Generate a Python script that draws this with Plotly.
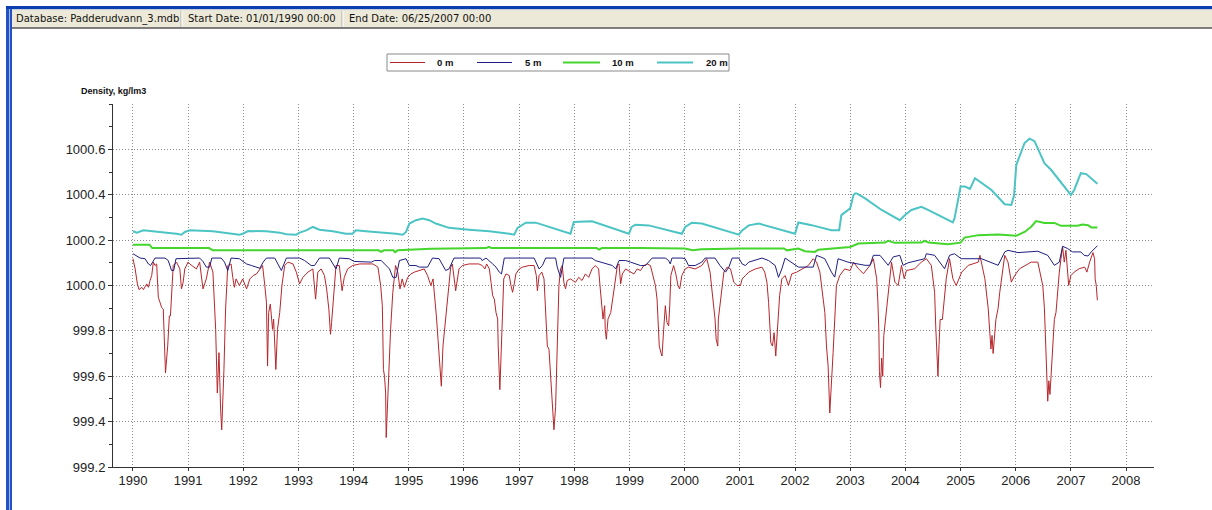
import datetime as dt
import plotly.graph_objects as go

# ---------------- data (decimal year, density kg/m3) ----------------
red_t = [1990.00,1990.04,1990.08,1990.11,1990.16,1990.19,1990.25,1990.28,1990.31,1990.34,1990.37,1990.40,1990.43,1990.46,1990.49,1990.52,1990.55,1990.59,1990.63,1990.66,1990.68,1990.73,1990.79,1990.85,1990.88,1990.91,1990.94,
         1991.00,1991.03,1991.15,1991.21,1991.27,1991.33,1991.39,1991.45,1991.50,1991.53,1991.56,1991.59,1991.61,1991.65,1991.68,1991.72,1991.78,1991.81,1991.84,1991.87,1991.93,1991.99,
         1992.06,1992.12,1992.18,1992.24,1992.30,1992.35,1992.39,1992.42,1992.44,1992.46,1992.49,1992.53,1992.55,1992.59,1992.62,1992.66,1992.70,1992.75,1992.81,1992.90,1992.96,
         1993.02,1993.08,1993.17,1993.26,1993.31,1993.35,1993.41,1993.47,1993.51,1993.55,1993.58,1993.60,1993.64,1993.68,1993.74,1993.79,1993.83,1993.89,1993.98,
         1994.11,1994.23,1994.35,1994.44,1994.49,1994.52,1994.54,1994.56,1994.58,1994.59,1994.61,1994.64,1994.67,1994.71,1994.76,1994.80,1994.84,1994.88,1994.92,1994.98,
         1995.04,1995.10,1995.19,1995.28,1995.34,1995.40,1995.44,1995.48,1995.50,1995.53,1995.56,1995.59,1995.62,1995.67,1995.72,1995.76,1995.79,1995.85,1995.91,1995.97,
         1996.09,1996.27,1996.33,1996.38,1996.41,1996.46,1996.49,1996.52,1996.55,1996.58,1996.61,1996.62,1996.65,1996.67,1996.70,1996.72,1996.76,1996.82,1996.85,1996.88,1996.91,1996.94,
         1997.00,1997.06,1997.18,1997.27,1997.31,1997.33,1997.36,1997.41,1997.45,1997.48,1997.51,1997.54,1997.57,1997.60,1997.63,1997.66,1997.69,1997.72,1997.75,1997.78,1997.81,1997.84,1997.87,1997.93,
         1998.02,1998.08,1998.14,1998.20,1998.26,1998.32,1998.38,1998.44,1998.47,1998.50,1998.52,1998.55,1998.56,1998.58,1998.61,1998.66,1998.69,1998.73,1998.78,1998.81,1998.84,1998.87,1998.93,
         1999.02,1999.08,1999.14,1999.20,1999.26,1999.32,1999.38,1999.42,1999.47,1999.50,1999.52,1999.54,1999.57,1999.59,1999.62,1999.65,1999.68,1999.71,1999.73,1999.75,1999.80,1999.84,1999.88,1999.91,1999.95,
         2000.01,2000.07,2000.19,2000.31,2000.40,2000.46,2000.49,2000.52,2000.55,2000.57,2000.60,2000.61,2000.66,2000.71,2000.77,2000.83,2000.89,2000.95,
         2001.01,2001.04,2001.10,2001.16,2001.28,2001.40,2001.45,2001.49,2001.52,2001.54,2001.56,2001.59,2001.62,2001.65,2001.68,2001.72,2001.76,2001.82,2001.88,2001.94,
         2002.03,2002.12,2002.24,2002.33,2002.39,2002.45,2002.51,2002.54,2002.57,2002.60,2002.63,2002.66,2002.69,2002.75,2002.81,2002.90,
         2003.00,2003.06,2003.15,2003.24,2003.36,2003.42,2003.48,2003.50,2003.52,2003.53,2003.55,2003.57,2003.59,2003.61,2003.64,2003.69,2003.75,2003.81,2003.87,2003.93,2003.98,
         2004.02,2004.17,2004.29,2004.38,2004.47,2004.53,2004.55,2004.57,2004.59,2004.61,2004.63,2004.67,2004.71,2004.74,2004.80,2004.86,2004.92,
         2005.02,2005.14,2005.32,2005.35,2005.44,2005.50,2005.53,2005.55,2005.57,2005.59,2005.61,2005.64,2005.68,2005.71,2005.80,2005.86,2005.92,2005.98,
         2006.07,2006.28,2006.40,2006.49,2006.52,2006.54,2006.56,2006.58,2006.60,2006.62,2006.64,2006.67,2006.70,2006.73,2006.76,2006.79,2006.82,2006.85,2006.88,2006.91,2006.96,
         2007.00,2007.06,2007.15,2007.25,2007.29,2007.34,2007.40,2007.43,2007.44,2007.46,2007.48]
red_v = [1000.118,1000.073,1000.007,999.982,999.992,999.982,1000.007,999.992,1000.022,1000.044,1000.103,1000.088,1000.095,999.948,999.926,999.903,999.896,999.615,999.733,999.866,999.866,1000.088,1000.103,1000.073,999.985,1000.014,1000.073,
         1000.103,1000.095,1000.073,1000.103,999.985,1000.029,1000.103,1000.059,999.807,999.526,999.704,999.452,999.364,999.630,999.896,1000.088,1000.095,1000.036,999.992,1000.029,1000.000,1000.029,
         999.985,1000.029,1000.044,1000.051,1000.073,1000.088,1000.000,999.926,999.645,999.881,999.918,999.807,999.852,999.630,999.807,999.881,1000.000,1000.088,1000.103,1000.095,1000.059,
         1000.007,1000.036,1000.059,1000.073,999.940,1000.059,1000.073,1000.044,999.985,999.896,999.785,999.837,999.955,1000.088,1000.088,999.977,1000.036,1000.073,1000.088,
         1000.095,1000.095,1000.095,1000.081,1000.000,999.911,999.630,999.600,999.526,999.330,999.467,999.645,999.807,999.970,1000.088,1000.059,999.985,1000.029,999.992,1000.036,
         1000.051,1000.059,1000.066,1000.073,1000.044,1000.000,1000.029,999.940,999.866,999.763,999.659,999.556,999.733,999.852,1000.000,1000.081,1000.095,999.977,1000.073,1000.088,
         1000.095,1000.095,1000.088,1000.073,1000.095,1000.073,1000.014,999.955,999.940,999.881,999.852,999.733,999.541,999.674,999.852,1000.029,1000.051,1000.044,1000.000,999.970,1000.007,1000.051,
         1000.073,1000.081,1000.088,1000.088,1000.044,999.977,1000.044,1000.059,1000.029,999.852,999.733,999.719,999.600,999.467,999.364,999.467,999.733,1000.000,1000.073,1000.088,1000.014,999.985,1000.022,1000.029,
         1000.014,1000.036,1000.022,1000.051,1000.036,1000.073,1000.088,1000.073,999.985,999.911,999.852,999.911,999.807,999.763,999.852,999.881,999.926,1000.000,1000.088,1000.095,1000.007,1000.051,1000.073,
         1000.059,1000.051,1000.073,1000.066,1000.088,1000.095,1000.088,1000.044,1000.000,999.940,999.837,999.733,999.704,999.689,999.807,999.911,999.837,999.822,999.911,1000.044,1000.088,1000.051,1000.000,999.985,1000.044,
         1000.073,1000.081,1000.073,1000.088,1000.118,1000.059,999.985,999.911,999.852,999.763,999.733,999.852,999.955,1000.059,1000.081,1000.073,1000.014,1000.000,
         1000.000,1000.029,1000.044,1000.059,1000.073,1000.081,1000.059,1000.014,999.926,999.837,999.748,999.733,999.792,999.689,999.822,999.955,1000.029,1000.044,1000.000,1000.051,
         1000.059,1000.073,1000.088,1000.118,1000.103,1000.059,999.940,999.881,999.733,999.645,999.438,999.600,999.704,1000.000,1000.044,1000.073,
         1000.066,1000.103,1000.074,1000.052,1000.089,1000.118,1000.030,999.940,999.800,999.620,999.550,999.680,999.600,999.780,999.850,999.941,1000.103,1000.015,1000.000,1000.089,1000.030,
         1000.066,1000.074,1000.103,1000.118,1000.089,999.970,999.820,999.700,999.600,999.740,999.850,999.850,999.950,1000.030,1000.118,1000.030,1000.000,
         1000.059,1000.089,1000.103,1000.133,1000.030,999.900,999.800,999.720,999.780,999.700,999.760,999.850,999.900,999.970,1000.133,1000.103,1000.015,1000.044,
         1000.074,1000.103,1000.103,1000.000,999.900,999.750,999.600,999.490,999.580,999.520,999.600,999.750,999.850,999.882,999.985,1000.059,1000.118,1000.170,1000.103,1000.155,1000.000,
         1000.044,1000.059,1000.074,1000.081,1000.059,1000.103,1000.145,1000.118,1000.030,1000.000,999.935]

navy_t = [1990.00,1990.13,1990.22,1990.28,1990.32,1990.36,1990.40,1990.58,1990.64,1990.70,1990.74,1990.78,1990.97,
          1991.03,1991.21,1991.27,1991.33,1991.39,1991.43,1991.60,1991.66,1991.72,1991.78,1991.93,
          1992.06,1992.15,1992.24,1992.30,1992.36,1992.42,1992.57,1992.69,1992.78,
          1993.02,1993.11,1993.23,1993.29,1993.38,1993.56,1993.62,1993.68,1993.74,1993.92,
          1994.01,1994.17,1994.32,1994.38,1994.50,1994.65,1994.71,1994.77,1994.83,1994.95,
          1995.01,1995.13,1995.19,1995.34,1995.40,1995.43,1995.55,1995.67,1995.73,1995.82,
          1996.30,1996.33,1996.40,1996.46,1996.52,1996.58,1996.64,1996.68,1996.73,
          1997.27,1997.30,1997.36,1997.42,1997.48,1997.66,1997.69,1997.75,1997.81,
          1998.32,1998.38,1998.69,1998.75,1998.81,1998.93,
          1999.02,1999.11,1999.20,1999.29,1999.35,1999.41,1999.65,1999.71,1999.74,1999.77,1999.95,
          2000.01,2000.07,2000.19,2000.31,2000.37,2000.55,2000.64,2000.74,2000.80,2000.86,2000.98,
          2001.04,2001.10,2001.16,2001.40,2001.52,2001.64,2001.70,2001.76,2001.82,2001.88,
          2002.00,2002.06,2002.33,2002.39,2002.54,2002.66,2002.72,2002.78,2002.96,
          2003.27,2003.36,2003.42,2003.54,2003.69,2003.78,2003.90,2003.96,
          2004.05,2004.35,2004.38,2004.53,2004.71,2004.80,2004.89,
          2005.01,2005.38,2005.68,2005.80,2005.86,
          2006.04,2006.40,2006.58,2006.70,2006.79,2006.85,2006.94,
          2007.03,2007.18,2007.24,2007.31,2007.37,2007.46,2007.48]
navy_v = [1000.140,1000.121,1000.118,1000.095,1000.088,1000.103,1000.121,1000.121,1000.110,1000.066,1000.066,1000.118,1000.118,
          1000.121,1000.121,1000.106,1000.081,1000.081,1000.121,1000.121,1000.103,1000.066,1000.121,1000.118,
          1000.095,1000.088,1000.081,1000.076,1000.103,1000.121,1000.121,1000.066,1000.121,
          1000.121,1000.110,1000.088,1000.088,1000.121,1000.121,1000.095,1000.073,1000.121,1000.118,
          1000.106,1000.103,1000.103,1000.110,1000.110,1000.073,1000.036,1000.036,1000.110,1000.118,
          1000.088,1000.088,1000.081,1000.081,1000.110,1000.121,1000.118,1000.066,1000.073,1000.121,
          1000.121,1000.110,1000.121,1000.110,1000.095,1000.081,1000.059,1000.051,1000.121,
          1000.121,1000.103,1000.073,1000.088,1000.121,1000.121,1000.081,1000.036,1000.121,
          1000.121,1000.110,1000.088,1000.073,1000.110,1000.110,
          1000.103,1000.095,1000.088,1000.088,1000.103,1000.121,1000.121,1000.110,1000.095,1000.121,1000.121,
          1000.118,1000.088,1000.088,1000.103,1000.121,1000.121,1000.088,1000.059,1000.081,1000.121,1000.121,
          1000.095,1000.088,1000.103,1000.121,1000.110,1000.088,1000.036,1000.073,1000.121,1000.110,
          1000.088,1000.081,1000.081,1000.133,1000.118,1000.059,1000.037,1000.118,1000.103,
          1000.089,1000.089,1000.133,1000.133,1000.089,1000.126,1000.133,1000.089,
          1000.100,1000.118,1000.140,1000.133,1000.074,1000.133,1000.140,
          1000.118,1000.118,1000.089,1000.148,1000.155,
          1000.145,1000.151,1000.133,1000.089,1000.103,1000.173,1000.163,
          1000.148,1000.148,1000.133,1000.130,1000.148,1000.173,1000.175]

green_t = [1990.00,1990.30,1990.35,1991.38,1991.45,1994.45,1994.50,1994.55,1994.72,1994.75,1994.80,1995.00,1995.40,
           1996.40,1996.45,1996.50,1997.30,1998.40,1998.45,1998.50,1999.20,2000.00,2000.15,2000.30,2001.00,2001.80,2001.85,
           2002.00,2002.06,2002.18,2002.36,2002.42,2003.00,2003.15,2003.63,2003.69,2003.81,2004.29,2004.35,2004.42,2004.77,
           2005.00,2005.07,2005.32,2005.68,2006.01,2006.16,2006.28,2006.37,2006.52,2006.70,2006.82,2007.12,2007.21,2007.31,2007.37,2007.48]
green_v = [1000.180,1000.180,1000.165,1000.165,1000.155,1000.155,1000.148,1000.155,1000.155,1000.147,1000.155,1000.157,1000.162,
           1000.165,1000.170,1000.165,1000.165,1000.165,1000.158,1000.165,1000.165,1000.163,1000.155,1000.160,1000.163,1000.163,1000.155,
           1000.163,1000.163,1000.151,1000.148,1000.158,1000.170,1000.185,1000.189,1000.197,1000.188,1000.189,1000.197,1000.189,1000.182,
           1000.189,1000.211,1000.222,1000.225,1000.219,1000.236,1000.259,1000.284,1000.276,1000.276,1000.263,1000.263,1000.269,1000.266,1000.256,1000.256]

cyan_t = [1990.00,1990.07,1990.19,1990.43,1990.61,1990.79,1990.88,1990.94,
          1991.03,1991.45,1991.63,1991.81,1991.93,1991.99,
          1992.09,1992.42,1992.66,1992.78,1992.96,
          1993.02,1993.14,1993.26,1993.32,1993.38,1993.62,1993.86,1993.98,
          1994.04,1994.22,1994.41,1994.59,1994.77,1994.89,1994.95,
          1995.01,1995.13,1995.25,1995.37,1995.49,1995.67,1995.73,
          1996.09,1996.46,1996.82,1996.91,1996.97,
          1997.12,1997.30,1997.93,1997.99,
          1998.32,1998.99,1999.04,1999.11,1999.35,1999.95,
          2000.01,2000.13,2000.31,2000.98,2001.04,2001.16,2001.34,
          2002.00,2002.06,2002.30,2002.66,2002.80,2002.84,2003.00,2003.06,2003.09,2003.12,2003.27,2003.57,2003.90,2003.99,
          2004.11,2004.29,2004.41,2004.86,2004.89,2005.00,2005.08,2005.17,2005.26,2005.35,2005.56,2005.80,2005.92,2005.97,
          2006.01,2006.16,2006.25,2006.34,2006.52,2006.64,2006.76,2007.00,2007.06,2007.18,2007.28,2007.46,2007.48]
cyan_v = [1000.239,1000.233,1000.243,1000.239,1000.233,1000.228,1000.224,1000.236,
          1000.243,1000.239,1000.233,1000.228,1000.224,1000.228,
          1000.240,1000.239,1000.233,1000.226,1000.224,
          1000.233,1000.243,1000.258,1000.251,1000.246,1000.239,1000.228,1000.228,
          1000.243,1000.239,1000.236,1000.233,1000.228,1000.224,1000.236,
          1000.273,1000.288,1000.295,1000.288,1000.273,1000.258,1000.254,
          1000.246,1000.239,1000.228,1000.224,1000.254,
          1000.277,1000.277,1000.228,1000.280,
          1000.283,1000.228,1000.258,1000.268,1000.265,1000.228,
          1000.258,1000.277,1000.273,1000.224,1000.243,1000.265,1000.273,
          1000.228,1000.278,1000.266,1000.244,1000.244,1000.310,1000.340,1000.399,1000.406,1000.406,1000.384,1000.333,1000.288,1000.310,
          1000.333,1000.347,1000.333,1000.278,1000.296,1000.436,1000.436,1000.426,1000.473,1000.458,1000.421,1000.358,1000.355,1000.399,
          1000.532,1000.628,1000.647,1000.636,1000.539,1000.510,1000.473,1000.399,1000.421,1000.495,1000.491,1000.451,1000.448]

series_names = ["0 m", "5 m", "10 m", "20 m"]
y_tick_vals = [999.2, 999.4, 999.6, 999.8, 1000.0, 1000.2, 1000.4, 1000.6]
header_texts = ["Database: Padderudvann_3.mdb", "Start Date: 01/01/1990 00:00", "End Date: 06/25/2007 00:00"]
y_title = "Density, kg/lm3"


def to_date(t):
    y = int(t + 1e-9)
    a = dt.datetime(y, 1, 1)
    b = dt.datetime(y + 1, 1, 1)
    return a + (t - y) * (b - a)


# ---------------- layout geometry (pixels) ----------------
W, H = 1212, 510
L, R, T, B = 113, 1154, 104, 467
PW, PH = R - L, B - T


def px(x):
    return (x - L) / PW


def py(y):
    return (B - y) / PH


fig = go.Figure()
styles = [
    dict(color="#B8262B", width=1),
    dict(color="#1E1E82", width=1),
    dict(color="#44D62C", width=2),
    dict(color="#4CC4C4", width=2),
]
for name, ts, vs, st in zip(series_names,
                            [red_t, navy_t, green_t, cyan_t],
                            [red_v, navy_v, green_v, cyan_v], styles):
    fig.add_trace(go.Scatter(x=[to_date(t) for t in ts], y=vs, mode="lines",
                             name=name, line=st, hoverinfo="skip", showlegend=False))

axis_font = dict(family="Liberation Sans, Arial, sans-serif", size=13, color="#222")
grid_dash = "1px,2px"

fig.update_xaxes(
    type="date",
    range=[to_date(1989.638), to_date(2008.506)],
    tick0="1990-01-01", dtick="M12", tickformat="%Y",
    showgrid=True, gridcolor="#8c8c8c", griddash=grid_dash, gridwidth=1,
    showline=True, linecolor="#333", linewidth=1,
    ticks="outside", ticklen=3, tickcolor="#333",
    ticklabelstandoff=-2,
    tickfont=axis_font, zeroline=False, fixedrange=True,
)
fig.update_yaxes(
    range=[999.2, 1000.8],
    tickvals=y_tick_vals, ticktext=[f"{v:.1f}" for v in y_tick_vals],
    showgrid=True, gridcolor="#8c8c8c", griddash=grid_dash, gridwidth=1,
    showline=True, linecolor="#333", linewidth=1,
    ticks="outside", ticklen=4, tickcolor="#333",
    minor=dict(dtick=0.1, tick0=999.2, ticks="outside", ticklen=3, tickcolor="#333", showgrid=False),
    tickfont=axis_font, zeroline=False, fixedrange=True,
)

shapes = []
# left window border
shapes.append(dict(type="rect", xref="paper", yref="paper", x0=px(6), x1=px(12), y0=py(6), y1=py(H),
                   fillcolor="#2452C6", line=dict(width=0), layer="above"))
shapes.append(dict(type="line", xref="paper", yref="paper", x0=px(9.5), x1=px(9.5), y0=py(8), y1=py(H),
                   line=dict(color="#9DB9F2", width=1), layer="above"))
# top blue line
shapes.append(dict(type="rect", xref="paper", yref="paper", x0=px(6), x1=px(W), y0=py(6), y1=py(9),
                   fillcolor="#0B3FB0", line=dict(width=0), layer="above"))
shapes.append(dict(type="rect", xref="paper", yref="paper", x0=px(12), x1=px(W), y0=py(9), y1=py(10.5),
                   fillcolor="#C6CCD6", line=dict(width=0), layer="above"))
# header bar
shapes.append(dict(type="rect", xref="paper", yref="paper", x0=px(12), x1=px(W), y0=py(10.5), y1=py(27.5),
                   fillcolor="#ECE9D8", line=dict(width=0), layer="above"))
shapes.append(dict(type="line", xref="paper", yref="paper", x0=px(12), x1=px(W), y0=py(28), y1=py(28),
                   line=dict(color="#555555", width=1.5), layer="above"))
for sx in (181, 342):
    shapes.append(dict(type="line", xref="paper", yref="paper", x0=px(sx), x1=px(sx), y0=py(11), y1=py(27),
                       line=dict(color="#ACA899", width=1), layer="above"))
    shapes.append(dict(type="line", xref="paper", yref="paper", x0=px(sx + 1), x1=px(sx + 1), y0=py(11), y1=py(27),
                       line=dict(color="#FFFFFF", width=1), layer="above"))

annotations = []
for txt, hx in zip(header_texts, (14, 186, 347)):
    annotations.append(dict(text=txt, xref="paper", yref="paper", x=px(hx), y=py(19),
                            xanchor="left", yanchor="middle", showarrow=False,
                            font=dict(family="DejaVu Sans, Verdana, sans-serif", size=10, color="#111")))
annotations.append(dict(text="<b>" + y_title + "</b>", xref="paper", yref="paper", x=px(113), y=py(91),
                        xanchor="center", yanchor="middle", showarrow=False,
                        font=dict(family="Liberation Sans, Arial, sans-serif", size=9, color="#111")))

# legend box (drawn manually to match the compact original legend)
shapes.append(dict(type="rect", xref="paper", yref="paper", x0=px(387), x1=px(729), y0=py(54), y1=py(71),
                   fillcolor="white", line=dict(color="#8a8a8a", width=1), layer="above"))
legend_line_x = [(390, 425), (477, 512), (563, 600), (657, 693)]
legend_text_x = [435, 523, 610, 704]
for st, (a, b), tx, name in zip(styles, legend_line_x, legend_text_x, series_names):
    shapes.append(dict(type="line", xref="paper", yref="paper", x0=px(a), x1=px(b), y0=py(62.5), y1=py(62.5),
                       line=dict(color=st["color"], width=st["width"]), layer="above"))
    annotations.append(dict(text="<b>" + name + "</b>", xref="paper", yref="paper", x=px(tx), y=py(62.5),
                            xanchor="left", yanchor="middle", showarrow=False,
                            font=dict(family="Liberation Sans, Arial, sans-serif", size=9.5, color="#111")))

fig.update_layout(
    width=W, height=H,
    margin=dict(l=L, r=W - R, t=T, b=H - B, pad=0),
    paper_bgcolor="white", plot_bgcolor="white",
    showlegend=False,
    shapes=shapes, annotations=annotations,
)

fig.write_html("out.html")
